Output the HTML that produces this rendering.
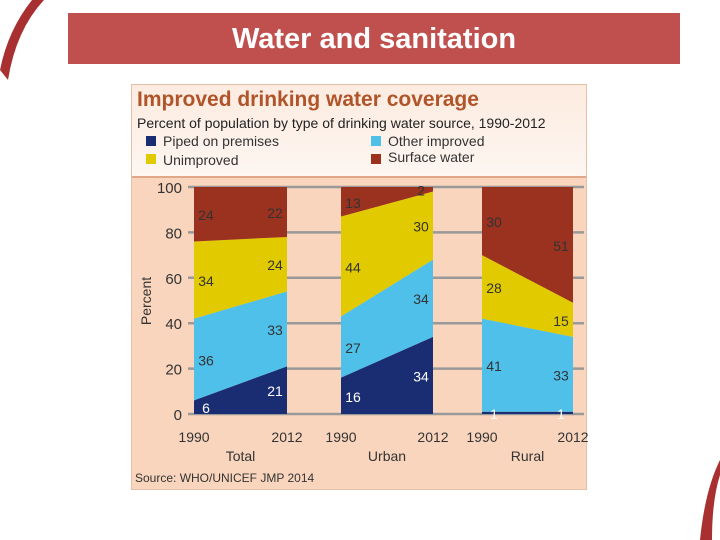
<!DOCTYPE html>
<html><head><meta charset="utf-8"><style>
body{margin:0;width:720px;height:540px;background:#fff;position:relative;overflow:hidden;font-family:"Liberation Sans",sans-serif}
#hdr{position:absolute;left:68px;top:13px;width:612px;height:51px;background:#c0504d;color:#fff;font-size:29px;font-weight:bold;text-align:center;line-height:52px}
#panel{position:absolute;left:131px;top:84px;width:454px;height:404px;background:#f9d5bd;border:1px solid #e3c0a8}
#top{position:absolute;left:0;top:0;width:454px;height:91px;background:linear-gradient(#fdebe0,#fdf6f1);border-bottom:2px solid #e0a888}
</style></head><body>
<svg style="position:absolute;left:0;top:0" width="720" height="540">
<path d="M0 70 Q8 30 32 0 L44 0 Q16 30 8 80 Z" fill="#a93030"/>
<path d="M700 540 Q705 490 720 460 L720 475 Q712 500 712 540 Z" fill="#a93030"/>
</svg>
<div id="hdr">Water and sanitation</div>
<div id="panel"><div id="top"></div></div>
<svg id="chart" style="position:absolute;left:0;top:0" width="720" height="540" font-family="Liberation Sans, sans-serif">
<text x="137" y="106" font-size="21" font-weight="bold" fill="#b0552a">Improved drinking water coverage</text>
<text x="137" y="128" font-size="14" fill="#222">Percent of population by type of drinking water source, 1990-2012</text>
<g font-size="14" fill="#333">
<rect x="146" y="136" width="10" height="10" fill="#1a2d73"/><text x="163" y="146">Piped on premises</text>
<rect x="146" y="154" width="10" height="10" fill="#e1cb00"/><text x="163" y="165">Unimproved</text>
<rect x="371" y="136" width="10" height="10" fill="#4fc0ea"/><text x="388" y="146">Other improved</text>
<rect x="371" y="154" width="10" height="10" fill="#9b311f"/><text x="388" y="162">Surface water</text>
</g>
<g id="grid"></g><g id="areas"></g><g id="labels"></g>
<text transform="translate(151,301) rotate(-90)" text-anchor="middle" font-size="14" fill="#333">Percent</text>
<text x="135" y="482" font-size="12" fill="#333">Source:  WHO/UNICEF JMP 2014</text>
</svg>
<script>
const groups=["Total","Urban","Rural"];
const years=["1990","2012"];
const piped1990=[6,16,1], piped2012=[21,34,1];
const other1990=[36,27,41], other2012=[33,34,33];
const unimp1990=[34,44,28], unimp2012=[24,30,15];
const surf1990=[24,13,30], surf2012=[22,2,51];
const yTicks=[0,20,40,60,80,100];
const NS="http://www.w3.org/2000/svg";
const y=v=>414-v*2.27;
const gx=[[194,287],[341,433],[482,573]];
const colors=["#1a2d73","#4fc0ea","#e1cb00","#9b311f"];
const names=["piped","other","unimproved","surface"];
const s90=[piped1990,other1990,unimp1990,surf1990], s12=[piped2012,other2012,unimp2012,surf2012];
function mk(t,a,p){const e=document.createElementNS(NS,t);for(const k in a)e.setAttribute(k,a[k]);p.appendChild(e);return e;}
const grid=document.getElementById('grid'),areas=document.getElementById('areas'),labels=document.getElementById('labels');
yTicks.forEach(t=>{
 const l=mk('line',{x1:188,x2:584,y1:y(t),y2:y(t),stroke:'#999','stroke-width':2.5},grid);
 
 
 const tx=mk('text',{x:182,y:y(t)+6,'text-anchor':'end','font-size':15,fill:'#333'},grid);tx.textContent=t;
 
 
});
groups.forEach((g,i)=>{
 const [x0,x1]=gx[i];let b0=0,b1=0;
 for(let s=0;s<4;s++){
  const a=s90[s][i],b=s12[s][i];
  const p=mk('polygon',{points:`${x0},${y(b0)} ${x1},${y(b1)} ${x1},${y(b1+b)} ${x0},${y(b0+a)}`,fill:colors[s]},areas);
  
  
  const wc=(s==0)?'#fff':'#333';
  const t1=mk('text',{x:x0+12,y:y(b0+a/2)+6,'text-anchor':'middle','font-size':14,fill:wc},labels);t1.textContent=a;
  
  
  const t2=mk('text',{x:x1-12,y:y(b1+b/2)+6,'text-anchor':'middle','font-size':14,fill:wc},labels);t2.textContent=b;
  
  
  b0+=a;b1+=b;
 }
 years.forEach((yr,j)=>{const t=mk('text',{x:gx[i][j],y:442,'text-anchor':'middle','font-size':14,fill:'#333'},labels);t.textContent=yr;
  
  });
 const c=mk('text',{x:(x0+x1)/2,y:461,'text-anchor':'middle','font-size':14,fill:'#333'},labels);c.textContent=g;
 
 
});
</script>
</body></html>
